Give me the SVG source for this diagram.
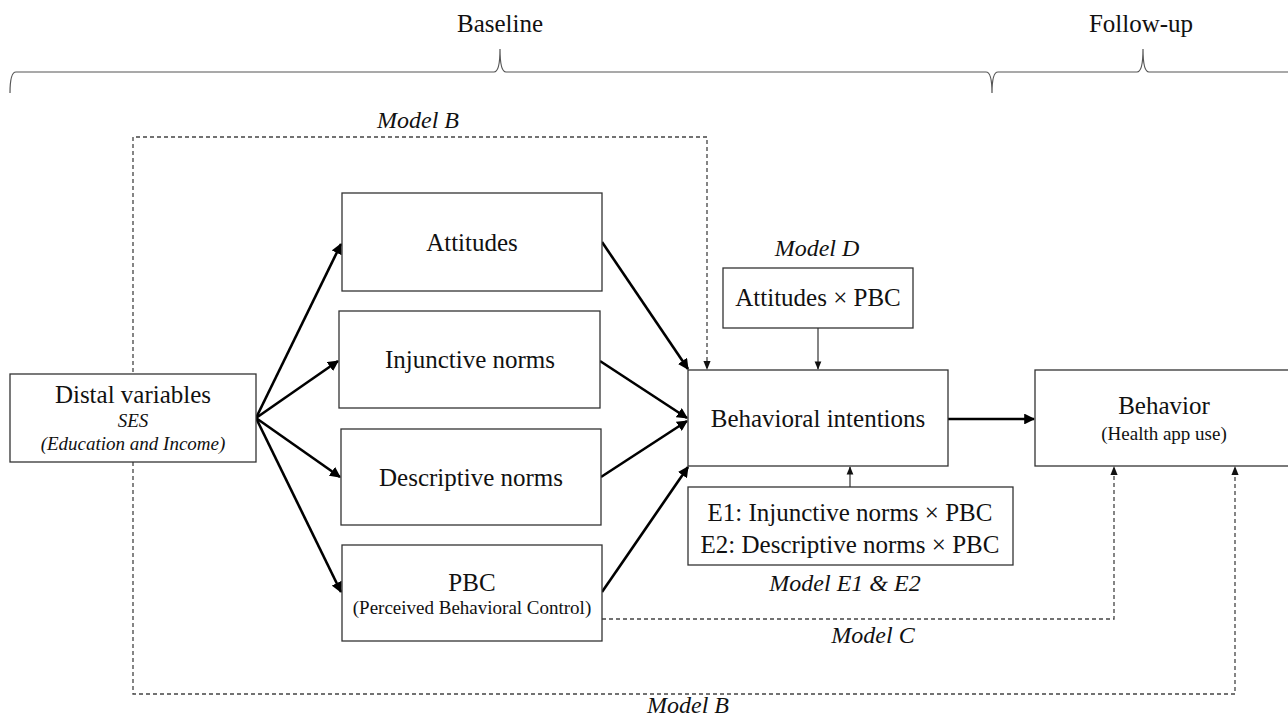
<svg xmlns="http://www.w3.org/2000/svg" width="1288" height="717" viewBox="0 0 1288 717">
<style>
text{font-family:"Liberation Serif","Times New Roman",serif;fill:#111;text-anchor:middle}
.b{font-size:25px}
.s{font-size:19px}
.i{font-style:italic}
.m{font-size:24px;font-style:italic}
rect{fill:#fff;stroke:#333;stroke-width:1.3}
.thick{stroke:#000;stroke-width:2.6;fill:none}
.thin{stroke:#333;stroke-width:1.2;fill:none}
.dash{stroke:#444;stroke-width:1.3;fill:none;stroke-dasharray:4 3}
</style>
<defs>
<marker id="ah" viewBox="0 0 10 10" refX="9" refY="5" markerWidth="4.2" markerHeight="4.2" orient="auto"><path d="M0,0 L10,5 L0,10 z" fill="#000"/></marker>
<marker id="as" viewBox="0 0 10 10" refX="9" refY="5" markerWidth="7" markerHeight="7" orient="auto"><path d="M0,1 L10,5 L0,9 z" fill="#111"/></marker>
</defs>
<g id="timeline">
<path d="M10,93 Q10,72 16,72 L494,72 Q500,72 500,49 Q500,72 506,72 L986,72 Q992,72 992,93 Q992,72 998,72 L1137,72 Q1143,72 1143,49 Q1143,72 1149,72 L1288,72" fill="none" stroke="#555" stroke-width="1.2"/>
<text x="500" y="32" style="font-size:25px">Baseline</text>
<text x="1141" y="32" style="font-size:25px">Follow-up</text>
</g>
<g id="connectors">
<path class="thick" marker-end="url(#ah)" d="M256,418 L341,244"/>
<path class="thick" marker-end="url(#ah)" d="M256,418 L338,361"/>
<path class="thick" marker-end="url(#ah)" d="M256,418 L340,477"/>
<path class="thick" marker-end="url(#ah)" d="M256,418 L341,592"/>
<path class="thick" marker-end="url(#ah)" d="M602,242 L688,369"/>
<path class="thick" marker-end="url(#ah)" d="M600,361 L687,418"/>
<path class="thick" marker-end="url(#ah)" d="M601,477 L687,421"/>
<path class="thick" marker-end="url(#ah)" d="M602,592 L688,467"/>
<path class="thick" marker-end="url(#ah)" d="M948,419 L1034,419"/>
<path class="thin" marker-end="url(#as)" d="M818,328 L818,369"/>
<path class="thin" marker-end="url(#as)" d="M850,487 L850,467"/>
<path class="dash" marker-end="url(#as)" d="M133,372 L133,137 L707,137 L707,369"/>
<path class="dash" marker-end="url(#as)" d="M133,462 L133,694 L1235,694 L1235,467"/>
<path class="dash" marker-end="url(#as)" d="M602,619 L1114,619 L1114,467"/>
<text class="m" x="418" y="128">Model B</text>
<text class="m" x="873" y="643">Model C</text>
<text class="m" x="688" y="713">Model B</text>
</g>
<g id="distal">
<rect x="10" y="374" width="246" height="88"/>
<text class="b" x="133" y="403">Distal variables</text>
<text class="s i" x="133" y="427">SES</text>
<text class="s i" x="133" y="450">(Education and Income)</text>
</g>
<g id="attitudes">
<rect x="342" y="193" width="260" height="98"/>
<text class="b" x="472" y="251">Attitudes</text>
</g>
<g id="injunctive">
<rect x="339" y="311" width="261" height="97"/>
<text class="b" x="470" y="368">Injunctive norms</text>
</g>
<g id="descriptive">
<rect x="341" y="429" width="260" height="96"/>
<text class="b" x="471" y="486">Descriptive norms</text>
</g>
<g id="pbc">
<rect x="342" y="545" width="260" height="96"/>
<text class="b" x="472" y="591">PBC</text>
<text class="s" x="472" y="614">(Perceived Behavioral Control)</text>
</g>
<g id="intentions">
<rect x="688" y="370" width="260" height="96"/>
<text class="b" x="818" y="427">Behavioral intentions</text>
</g>
<g id="modelD">
<text class="m" x="817" y="256">Model D</text>
<rect x="723" y="268" width="190" height="60"/>
<text class="b" x="818" y="306">Attitudes × PBC</text>
</g>
<g id="modelE">
<rect x="688" y="487" width="325" height="78"/>
<text class="b" x="850" y="521">E1: Injunctive norms × PBC</text>
<text class="b" x="850" y="553">E2: Descriptive norms × PBC</text>
<text class="m" x="845" y="591">Model E1 &amp; E2</text>
</g>
<g id="behavior">
<rect x="1035" y="370" width="260" height="96"/>
<text class="b" x="1164" y="414">Behavior</text>
<text class="s" x="1164" y="440">(Health  app use)</text>
</g>
</svg>
